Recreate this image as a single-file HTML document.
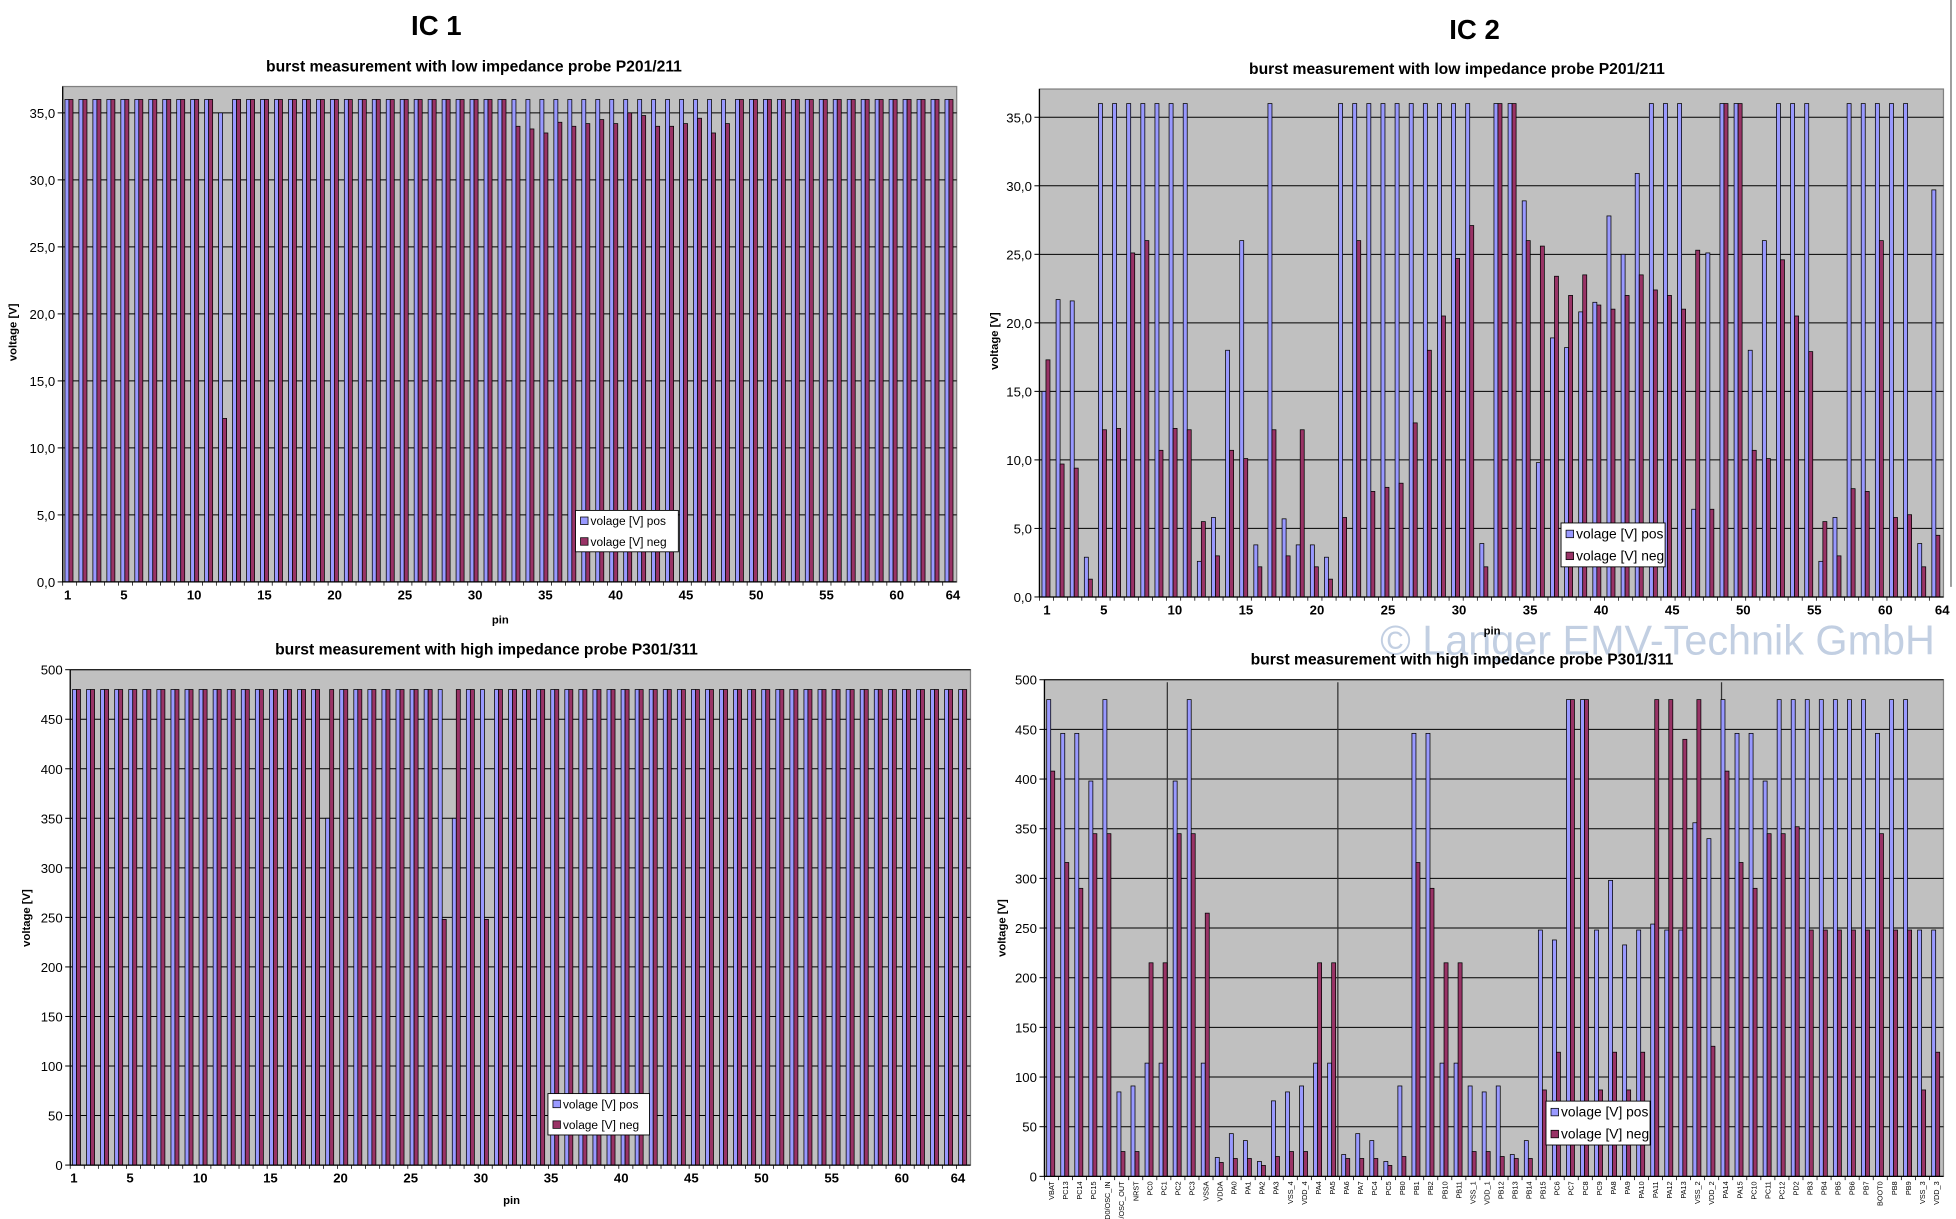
<!DOCTYPE html>
<html><head><meta charset="utf-8"><style>
html,body{margin:0;padding:0;background:#fff;}
svg{display:block;}
text{font-family:"Liberation Sans",Arial,sans-serif;}
</style></head><body>
<svg id="s" width="1956" height="1219" viewBox="0 0 1560 972" preserveAspectRatio="none" xmlns="http://www.w3.org/2000/svg">
<text x="348" y="28" font-size="22" font-weight="bold" text-anchor="middle">IC 1</text>
<text x="1176" y="31" font-size="22" font-weight="bold" text-anchor="middle">IC 2</text>
<text x="378" y="57" font-size="12.5" font-weight="bold" text-anchor="middle">burst measurement with low impedance probe P201/211</text>
<text x="388" y="522" font-size="12.5" font-weight="bold" text-anchor="middle">burst measurement with high impedance probe P301/311</text>
<text x="1162" y="59" font-size="12.5" font-weight="bold" text-anchor="middle">burst measurement with low impedance probe P201/211</text>
<text x="1322" y="522" font-size="33" fill="#b4c4dc" text-anchor="middle" opacity="0.8">© Langer EMV-Technik GmbH</text>
<text x="1166" y="530" font-size="12.5" font-weight="bold" text-anchor="middle">burst measurement with high impedance probe P301/311</text>
<line x1="1556" y1="0" x2="1556" y2="468" stroke="#999" stroke-width="1.5"/>
<g id="g"></g>
</svg>
<script>
var NS="http://www.w3.org/2000/svg",G=document.getElementById("g");
function el(t,a,txt){var e=document.createElementNS(NS,t);for(var k in a)e.setAttribute(k,a[k]);if(txt!==undefined)e.textContent=txt;G.appendChild(e);return e;}
function chart(o){
 var L=o.l,R=o.r,T=o.t,B=o.b,max=o.max;
 el("rect",{x:L,y:T,width:R-L,height:B-T,fill:"#c0c0c0",stroke:"#808080","stroke-width":1});
 function Y(v){return B-(B-T)*v/max;}
 for(var v=0;v<=o.ymax+1e-9;v+=o.step){
  var y=Y(v);
  if(v>0)el("line",{x1:L,y1:y,x2:R,y2:y,stroke:"#000","stroke-width":0.8});
  el("line",{x1:L-4,y1:y,x2:L,y2:y,stroke:"#000","stroke-width":0.8});
  el("text",{x:L-6,y:y+4,"font-size":10.5,"text-anchor":"end"},o.fmt(v));
 }
 (o.vlines||[]).forEach(function(x){el("line",{x1:x,y1:T+2,x2:x,y2:B,stroke:"#333","stroke-width":1});});
 var n=o.pos.length,w=(R-L)/n,bw=o.bw||3.2;
 for(var i=0;i<n;i++){
  var c=L+w*i+(o.off||1.5);
  var p=o.pos[i],q=o.neg[i];
  if(p>0)el("rect",{x:c,y:Y(p),width:bw,height:B-Y(p),fill:"#9999ff",stroke:"#000","stroke-width":0.6});
  if(q>0)el("rect",{x:c+bw,y:Y(q),width:bw,height:B-Y(q),fill:"#993366",stroke:"#000","stroke-width":0.6});
  el("line",{x1:L+w*i,y1:B,x2:L+w*i,y2:B+3,stroke:"#000","stroke-width":0.6});
 }
 el("line",{x1:L,y1:B,x2:R,y2:B,stroke:"#000","stroke-width":1});
 el("line",{x1:L,y1:T,x2:L,y2:B,stroke:"#000","stroke-width":1});
 if(o.labels){
  o.labels.forEach(function(s,i){var x=L+w*i+w/2;
   el("text",{x:x+2,y:B+4,"font-size":5.8,"text-anchor":"end",transform:"rotate(-90 "+(x+2)+" "+(B+4)+")"},s);});
 } else {
  [1,5,10,15,20,25,30,35,40,45,50,55,60,64].forEach(function(k){
   var x=o.lx0+(o.lx1-o.lx0)*(k-1)/63;
   el("text",{x:x,y:B+14,"font-size":10.5,"font-weight":"bold","text-anchor":"middle"},String(k));});
 }
 var yl=o.yl;
 el("text",{x:yl[0],y:yl[1],"font-size":9,"font-weight":"bold","text-anchor":"middle",transform:"rotate(-90 "+yl[0]+" "+yl[1]+")"},"voltage [V]");
 if(o.pin)el("text",{x:o.pin[0],y:o.pin[1],"font-size":9,"font-weight":"bold","text-anchor":"middle"},"pin");
 var lg=o.leg,fs=o.lfs||9.5;
 el("rect",{x:lg[0],y:lg[1],width:lg[2],height:lg[3],fill:"#fff",stroke:"#000","stroke-width":0.7});
 var h=lg[3]/2;
 el("rect",{x:lg[0]+4,y:lg[1]+h/2-3,width:6,height:6,fill:"#9999ff",stroke:"#000","stroke-width":0.6});
 el("text",{x:lg[0]+12,y:lg[1]+h/2+3.5,"font-size":fs},"volage [V] pos");
 el("rect",{x:lg[0]+4,y:lg[1]+h+h/2-3,width:6,height:6,fill:"#993366",stroke:"#000","stroke-width":0.6});
 el("text",{x:lg[0]+12,y:lg[1]+h+h/2+3.5,"font-size":fs},"volage [V] neg");
}
function f1(v){return v.toFixed(1).replace(".",",");}
function f0(v){return String(v);}
var pA=[],nA=[];for(var i=0;i<64;i++){pA.push(36);nA.push(36);}
pA[11]=35;nA[11]=12.2;
var nn=[34,33.8,33.5,34.3,34,34.2,34.5,34.2,35,34.8,34,34,34.2,34.6,33.5,34.2];
for(i=0;i<16;i++)nA[32+i]=nn[i];
chart({l:50,r:763,t:69,b:464,max:464/(464-90)*35*(464-69)/464,ymax:35,step:5,fmt:f1,pos:pA,neg:nA,lx0:54,lx1:760,yl:[13,265],pin:[399,497],leg:[459,407,82,33],off:1.8});
var pB=[],nB=[];for(i=0;i<64;i++){pB.push(480);nB.push(480);}
pB[18]=350;nB[26]=248;pB[27]=350;nB[29]=248;
chart({l:56,r:774,t:534,b:929,max:500,ymax:500,step:50,fmt:f0,pos:pB,neg:nB,lx0:59,lx1:764,yl:[24,732],pin:[408,960],leg:[437,872,81,33],off:1.8});
var cd=[[15,17.3],[21.7,9.7],[21.6,9.4],[2.9,1.3],[36,12.2],[36,12.3],[36,25.1],[36,26],[36,10.7],[36,12.3],[36,12.2],[2.6,5.5],[5.8,3],[18,10.7],[26,10.1],[3.8,2.2],[36,12.2],[5.7,3],[3.8,12.2],[3.8,2.2],[2.9,1.3],[36,5.8],[36,26],[36,7.7],[36,8],[36,8.3],[36,12.7],[36,18],[36,20.5],[36,24.7],[36,27.1],[3.9,2.2],[36,36],[36,36],[28.9,26],[9.8,25.6],[18.9,23.4],[18.2,22],[20.8,23.5],[21.5,21.3],[27.8,21],[25,22],[30.9,23.5],[36,22.4],[36,22],[36,21],[6.4,25.3],[25.1,6.4],[36,36],[36,36],[18,10.7],[26,10.1],[36,24.6],[36,20.5],[36,17.9],[2.6,5.5],[5.8,3],[36,7.9],[36,7.7],[36,26],[36,5.8],[36,6],[3.9,2.2],[29.7,4.5]];
chart({l:829,r:1550,t:71,b:476,max:35*(476-71)/(476-93.5),ymax:35,step:5,fmt:f1,pos:cd.map(function(a){return a[0];}),neg:cd.map(function(a){return a[1];}),lx0:835,lx1:1549,yl:[796,272],pin:[1190,506],leg:[1245,417,83,35],lfs:11,off:2});
var names=["VBAT","PC13","PC14","PC15","PD0/OSC_IN","PD1/OSC_OUT","NRST","PC0","PC1","PC2","PC3","VSSA","VDDA","PA0","PA1","PA2","PA3","VSS_4","VDD_4","PA4","PA5","PA6","PA7","PC4","PC5","PB0","PB1","PB2","PB10","PB11","VSS_1","VDD_1","PB12","PB13","PB14","PB15","PC6","PC7","PC8","PC9","PA8","PA9","PA10","PA11","PA12","PA13","VSS_2","VDD_2","PA14","PA15","PC10","PC11","PC12","PD2","PB3","PB4","PB5","PB6","PB7","BOOT0","PB8","PB9","VSS_3","VDD_3"];
var dd=[[480,408],[446,316],[446,290],[398,345],[480,345],[85,25],[91,25],[114,215],[114,215],[398,345],[480,345],[114,265],[19,14],[43,18],[36,18],[15,11],[76,20],[85,25],[91,25],[114,215],[114,215],[22,18],[43,18],[36,18],[15,11],[91,20],[446,316],[446,290],[114,215],[114,215],[91,25],[85,25],[91,20],[22,18],[36,18],[248,87],[238,125],[480,480],[480,480],[248,87],[298,125],[233,87],[248,125],[254,480],[248,480],[248,440],[356,480],[340,131],[480,408],[446,316],[446,290],[398,345],[480,345],[480,352],[480,248],[480,248],[480,248],[480,248],[480,248],[446,345],[480,248],[480,248],[248,87],[248,125]];
chart({l:833,r:1550,t:542,b:938,max:500,ymax:500,step:50,fmt:f0,pos:dd.map(function(a){return a[0];}),neg:dd.map(function(a){return a[1];}),labels:names,yl:[802,740],leg:[1233,878,83,35],lfs:11,vlines:[931,1067,1373],off:1.8});
</script>
</body></html>
